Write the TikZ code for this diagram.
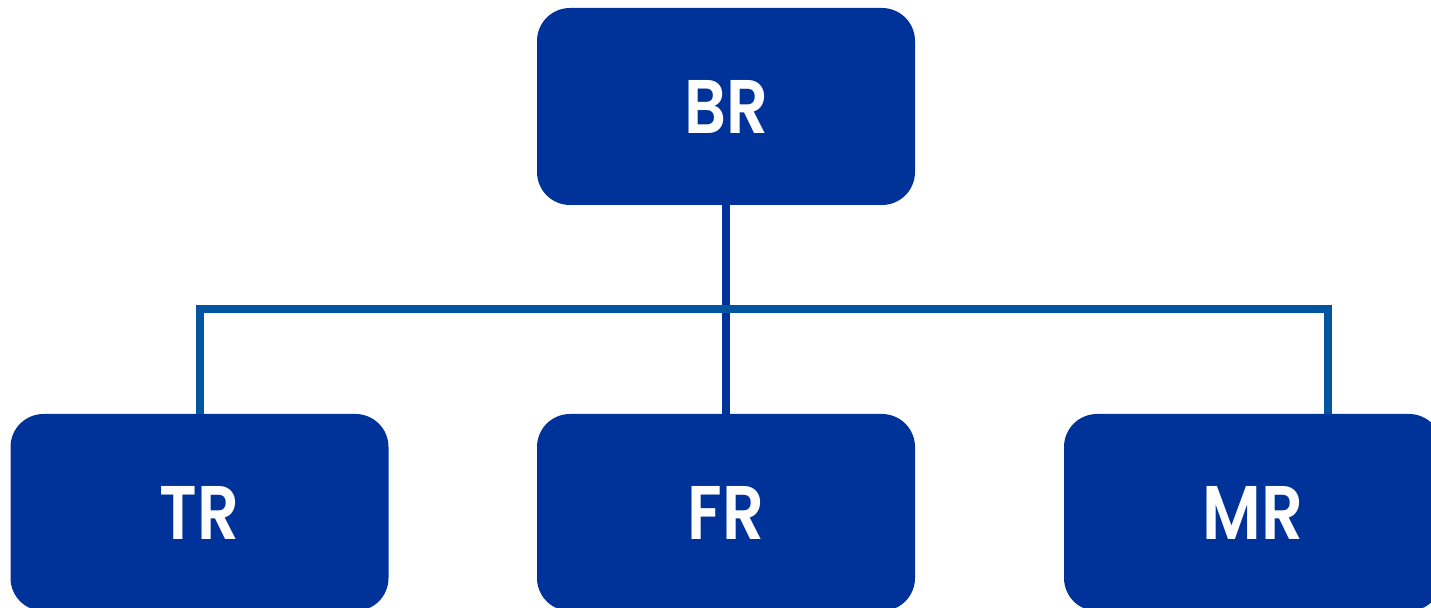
\documentclass[tikz,border=0pt]{standalone}
\usepackage{fontspec}
\newfontfamily\boxfont{Poppins}[BoldFont={Poppins SemiBold}, BoldFeatures={FakeStretch=0.86}]
\definecolor{boxblue}{RGB}{0,51,153}
\definecolor{barblue}{RGB}{0,84,160}
\begin{document}
\begin{tikzpicture}[x=.5pt,y=-.5pt,
  unit/.style={fill=boxblue, rounded corners=16.5pt, minimum width=189pt,
    minimum height=98.5pt, inner sep=0pt, text=white,
    font=\boxfont\bfseries\fontsize{38}{40}\selectfont},
  stem/.style={draw=boxblue, line width=4pt},
  bar/.style={draw=barblue, line width=4pt}]
\useasboundingbox (0,0) rectangle (1431,608);
\clip (0,0) rectangle (1431,608);
\node[unit] (BR) at (726,106.5) {BR};
\node[unit] (TR) at (199.5,512.5) {TR};
\node[unit] (FR) at (726,512.5) {FR};
\node[unit] (MR) at (1253,512.5) {MR};
\coordinate (hub) at (726,309);
\coordinate (MRtop) at ([xshift=37.5pt]MR.north);
\draw[stem] (BR.south) -- (FR.north);
\draw[bar] (TR.north) |- (hub) -| (MRtop);
\end{tikzpicture}
\end{document}
